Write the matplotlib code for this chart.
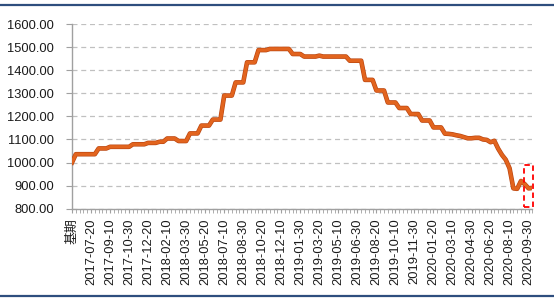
import matplotlib
matplotlib.use("Agg")
import matplotlib.pyplot as plt
from matplotlib.lines import Line2D
from matplotlib.patches import Rectangle
import matplotlib.patheffects as pe

# ---- data ----
x_labels = ['基期', '2017-07-20', '2017-09-10', '2017-10-30', '2017-12-20',
            '2018-02-10', '2018-03-30', '2018-05-20', '2018-07-10', '2018-08-30',
            '2018-10-20', '2018-12-10', '2019-01-30', '2019-03-20', '2019-05-10',
            '2019-06-30', '2019-08-20', '2019-10-10', '2019-11-30', '2020-01-20',
            '2020-03-10', '2020-04-30', '2020-06-20', '2020-08-10', '2020-09-30']
label_step = 5

values = [
    1000,
    1036, 1036, 1036, 1036, 1036, 1036,
    1061, 1061, 1061,
    1068, 1068, 1068, 1068, 1068, 1068,
    1079, 1079, 1079, 1079,
    1085, 1085, 1085,
    1090, 1090,
    1104, 1104, 1104,
    1093, 1093, 1093,
    1126, 1126, 1126,
    1160, 1160, 1160,
    1186, 1186, 1186,
    1290, 1290, 1290,
    1347, 1347, 1347,
    1434, 1434, 1434,
    1487, 1487, 1487,
    1492, 1492, 1492, 1492, 1492, 1492,
    1470, 1470, 1470,
    1459, 1459, 1459, 1459,
    1463,
    1459, 1459, 1459, 1459, 1459, 1459, 1459,
    1441, 1441, 1441, 1441,
    1358, 1358, 1358,
    1312, 1312, 1312,
    1260, 1260, 1260,
    1236, 1236, 1236,
    1210, 1210, 1210,
    1182, 1182, 1182,
    1152, 1152, 1152,
    1125, 1124, 1122, 1118, 1115, 1110, 1105, 1105, 1107, 1107,
    1100, 1098, 1088, 1094, 1060, 1033, 1012, 975, 888, 886,
    920, 906, 888, 890,
]

y_ticks = [800, 900, 1000, 1100, 1200, 1300, 1400, 1500, 1600]
highlight_x = (118.9, 121.2)
highlight_y = (808, 990)

# ---- figure ----
plt.rcParams['font.family'] = ['Liberation Sans', 'Noto Sans CJK SC', 'DejaVu Sans']
fig = plt.figure(figsize=(5.54, 3.02), dpi=100)
ax = fig.add_axes([0.130, 0.309, 0.831, 0.6115])

xs = list(range(len(values)))
ax.plot(xs, values, color='#E2641E', lw=2.4, solid_joinstyle='round',
        path_effects=[pe.Stroke(linewidth=3.3, foreground='#B8440F'), pe.Normal()],
        zorder=3)

ax.set_xlim(0, 120.5)
ax.set_ylim(800, 1600)
ax.set_yticks(y_ticks)
ax.set_yticklabels([f'{v:.2f}' for v in y_ticks], fontsize=9.3, color='#1a1a1a')

ax.set_xticks(list(range(0, len(values), label_step)))
ax.set_xticklabels(x_labels, rotation=90, fontsize=9.3, color='#1a1a1a')
ax.set_xticks(xs, minor=True)
ax.tick_params(axis='x', which='major', length=3, color='#A0A0A0', pad=4)
ax.tick_params(axis='x', which='minor', length=3, color='#A0A0A0')
ax.tick_params(axis='y', which='major', length=4, color='#A0A0A0', pad=9)

ax.grid(axis='y', color='#C0C0C0', linestyle=(0, (4, 3)), lw=0.9)
ax.set_axisbelow(True)

for s in ['top', 'right']:
    ax.spines[s].set_visible(False)
for s in ['left', 'bottom']:
    ax.spines[s].set_color('#A0A0A0')
    ax.spines[s].set_linewidth(1.0)

rect = Rectangle((highlight_x[0], highlight_y[0]), highlight_x[1] - highlight_x[0],
                 highlight_y[1] - highlight_y[0], fill=False, edgecolor='#FF0000',
                 linestyle=(0, (3, 2)), lw=1.3, clip_on=False, zorder=4)
ax.add_patch(rect)

# frame lines at top and bottom of the image
for yy in [1 - 4.5 / 302, 1 - 296 / 302]:
    fig.add_artist(Line2D([0.0, 1.0], [yy, yy], transform=fig.transFigure,
                          color='#2E4E7E', lw=1.6))

fig.savefig('out.png', dpi=100)
